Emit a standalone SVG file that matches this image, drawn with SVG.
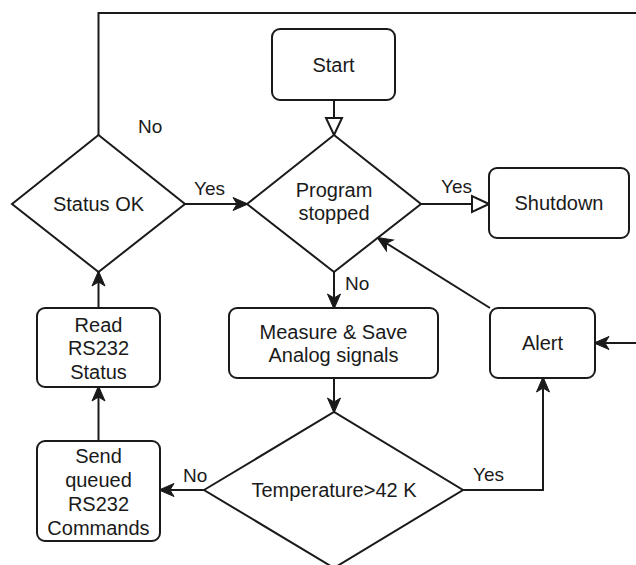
<svg xmlns="http://www.w3.org/2000/svg" width="636" height="565" viewBox="0 0 636 565">
<style>
.shape{fill:#fff;stroke:#1a1a1a;stroke-width:2}
.edge{fill:none;stroke:#1a1a1a;stroke-width:2}
text{font-family:"Liberation Sans",Arial,sans-serif;font-size:20px;fill:#1a1a1a;text-anchor:middle}
.lbl{font-size:19px;text-anchor:start}
</style>
<defs>
<marker id="fill" viewBox="-16 -8 18 16" refX="0" refY="0" markerWidth="18" markerHeight="16" orient="auto" markerUnits="userSpaceOnUse">
<path d="M1,0 L-14,-6.5 L-10,0 L-14,6.5 Z" fill="#1a1a1a" stroke="#1a1a1a" stroke-width="1" stroke-linejoin="miter"/>
</marker>
<marker id="open" viewBox="-20 -10 22 20" refX="0" refY="0" markerWidth="22" markerHeight="20" orient="auto" markerUnits="userSpaceOnUse">
<path d="M0,0 L-17,-8 L-17,8 Z" fill="#fff" stroke="#1a1a1a" stroke-width="2" stroke-linejoin="miter"/>
</marker>
</defs>
<rect width="636" height="565" fill="#fff"/>
<g id="connectors">
<path class="edge" d="M98.5,135 V13 H636"/>
<path class="edge" d="M334,100 V135" marker-end="url(#open)"/>
<path class="edge" d="M185,204 H247" marker-end="url(#fill)"/>
<path class="edge" d="M421,204 H489" marker-end="url(#open)"/>
<path class="edge" d="M334,272 V308" marker-end="url(#fill)"/>
<path class="edge" d="M334,378 V412" marker-end="url(#fill)"/>
<path class="edge" d="M204,490 H160" marker-end="url(#fill)"/>
<path class="edge" d="M463,490 H543 V378" marker-end="url(#fill)"/>
<path class="edge" d="M636,343 H595" marker-end="url(#fill)"/>
<path class="edge" d="M490,308 L378,238" marker-end="url(#fill)"/>
<path class="edge" d="M98.5,308 V272" marker-end="url(#fill)"/>
<path class="edge" d="M98.5,441 V387" marker-end="url(#fill)"/>
<text class="lbl" x="138" y="133">No</text>
<text class="lbl" x="194" y="195">Yes</text>
<text class="lbl" x="441" y="193">Yes</text>
<text class="lbl" x="345" y="290">No</text>
<text class="lbl" x="183" y="482">No</text>
<text class="lbl" x="473" y="481">Yes</text>
</g>
<g id="start">
<rect class="shape" x="272" y="29" width="123" height="71" rx="8"/>
<text x="333.5" y="72">Start</text>
</g>
<g id="status-ok">
<polygon class="shape" points="12,204 98.5,135 185,204 98.5,272"/>
<text x="98.5" y="211">Status OK</text>
</g>
<g id="program-stopped">
<polygon class="shape" points="247,204 334,135 421,204 334,272"/>
<text x="334" y="197">Program</text>
<text x="334" y="220">stopped</text>
</g>
<g id="shutdown">
<rect class="shape" x="489" y="168" width="140" height="70" rx="8"/>
<text x="559" y="210">Shutdown</text>
</g>
<g id="measure">
<rect class="shape" x="229" y="308" width="209" height="70" rx="8"/>
<text x="333.5" y="339">Measure &amp; Save</text>
<text x="333.5" y="362">Analog signals</text>
</g>
<g id="alert">
<rect class="shape" x="490" y="308" width="105" height="70" rx="8"/>
<text x="542.5" y="350">Alert</text>
</g>
<g id="read-status">
<rect class="shape" x="37" y="308" width="123" height="79" rx="8"/>
<text x="98.5" y="332">Read</text>
<text x="98.5" y="355">RS232</text>
<text x="98.5" y="379">Status</text>
</g>
<g id="send-commands">
<rect class="shape" x="37" y="441" width="123" height="100" rx="8"/>
<text x="98.5" y="463">Send</text>
<text x="98.5" y="487">queued</text>
<text x="98.5" y="511">RS232</text>
<text x="98.5" y="535">Commands</text>
</g>
<g id="temperature">
<polygon class="shape" points="204,490 334,412 463,490 334,568"/>
<text x="334" y="497">Temperature&gt;42 K</text>
</g>
</svg>
